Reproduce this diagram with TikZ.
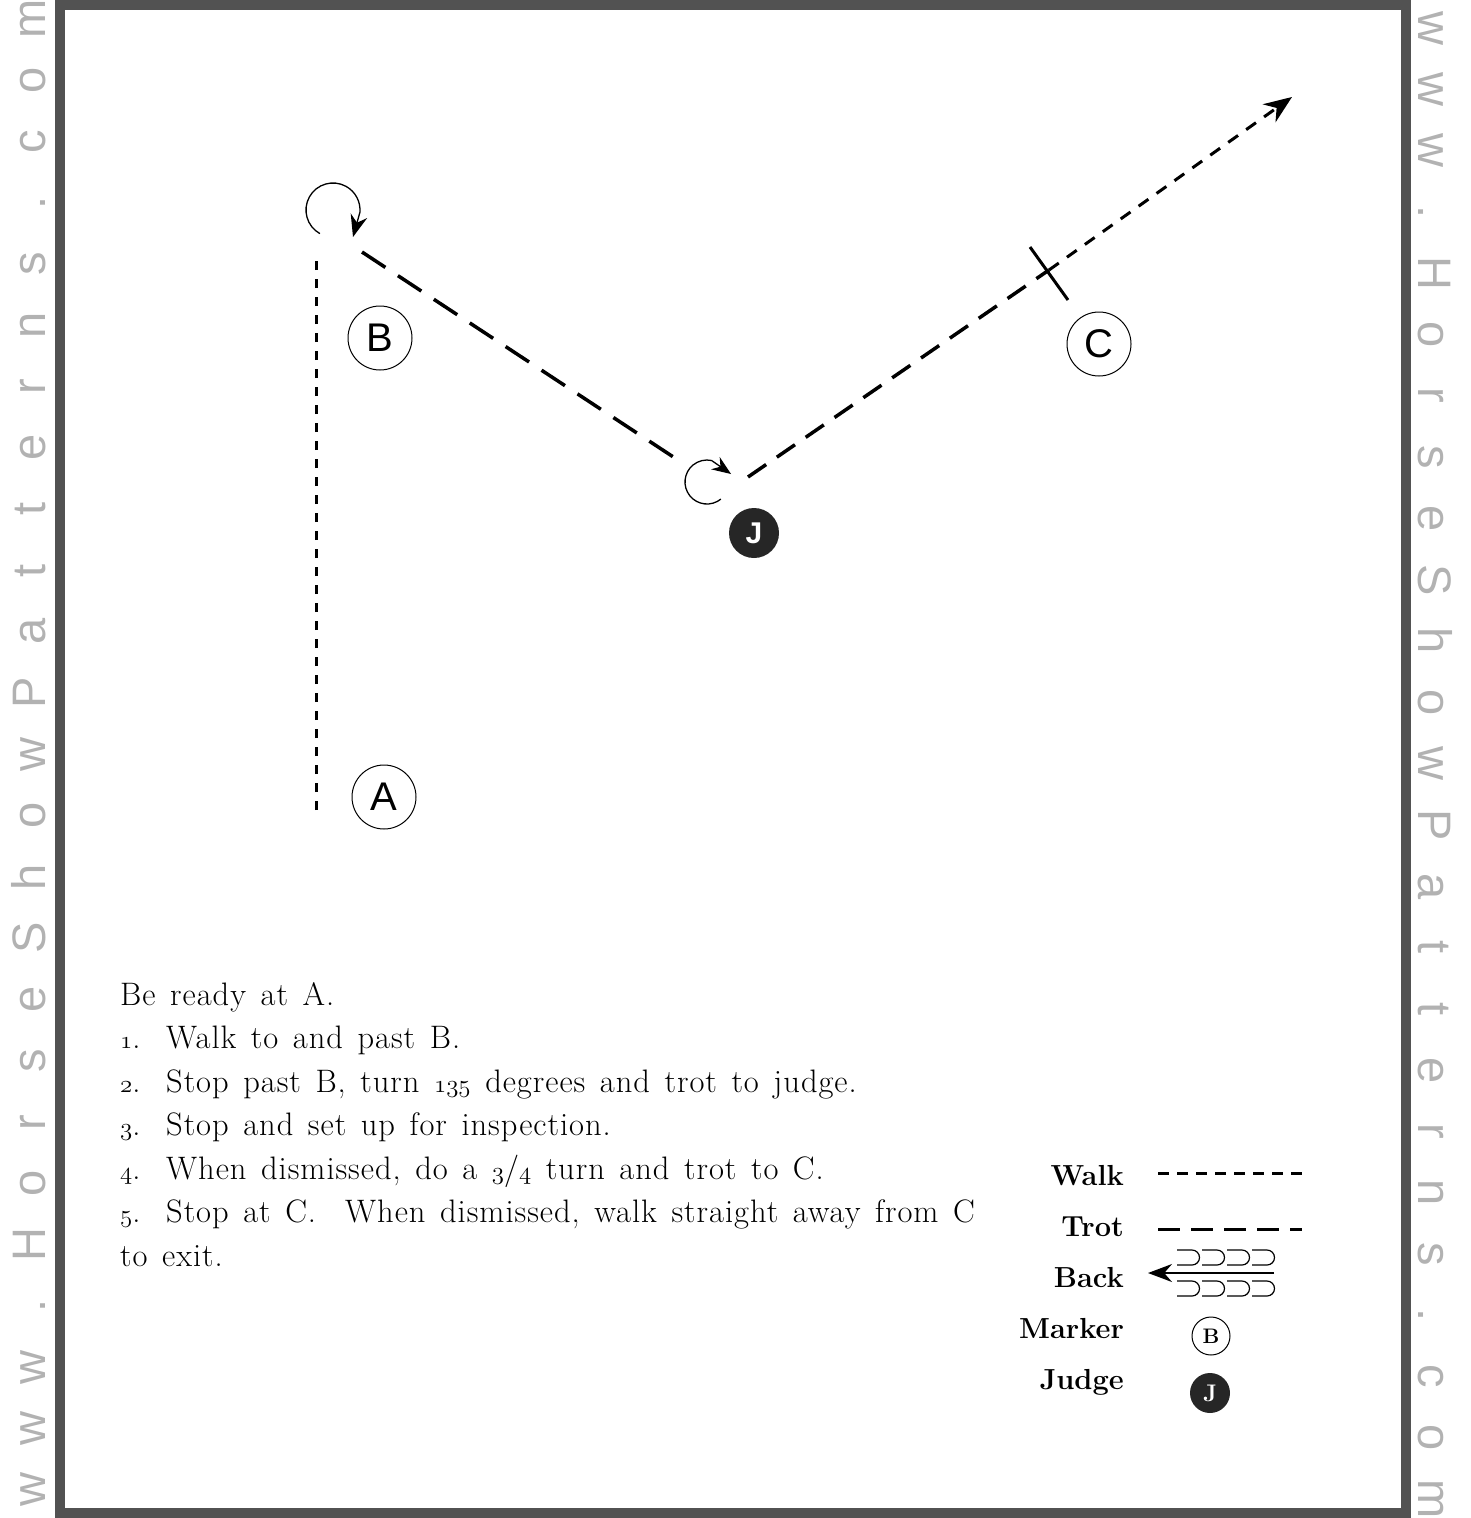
\documentclass[tikz,border=0pt]{standalone}
\usepackage{fontspec}
\usepackage{tikz}
\usetikzlibrary{calc,arrows.meta}
\newfontfamily\markfont{Liberation Sans}
\newfontfamily\wmfont{Liberation Sans}
\newfontfamily\bodyfont[LetterSpace=3,WordSpace=1.35]{Latin Modern Roman}
\newcommand{\osf}[1]{{\fontencoding{OML}\fontfamily{lmm}\fontseries{m}\fontshape{it}\selectfont #1}}
\newcommand{\stepno}[1]{\makebox[46pt][l]{\osf{#1}.}}

\begin{document}
\begin{tikzpicture}[x=1pt,y=-1pt,
  walk/.style={line width=3pt,dash pattern=on 9pt off 9pt},
  trot/.style={line width=3.5pt,dash pattern=on 28pt off 15pt},
  turn/.style={line width=1.3pt,-{Stealth[length=22pt,width=17pt]}},
  marker/.style={circle,draw,line width=1pt,minimum size=64pt,inner sep=0pt,
    font=\markfont\fontsize{40}{40}\selectfont},
  judge/.style={circle,fill=black!85,text=white,minimum size=50pt,inner sep=0pt,
    font=\markfont\bfseries\fontsize{30}{30}\selectfont},
  body/.style={anchor=base west,inner sep=0pt,font=\bodyfont\fontsize{32.5}{36}\selectfont},
  legend/.style={anchor=base east,inner sep=0pt,font=\bfseries\fontsize{29}{29}\selectfont},
  wm/.style={anchor=base,inner sep=0pt,text=black!30,font=\wmfont\fontsize{47}{47}\selectfont}]

  \useasboundingbox (0,0) rectangle (1471,1518);
  % frame and watermark
  \draw[black!68,line width=10pt] (60,5) rectangle (1406,1513);
  \foreach \ch [count=\i from 0] in {w,w,w,.,H,o,r,s,e,S,h,o,w,P,a,t,t,e,r,n,s,.,c,o,m} {
    \node[wm,rotate=90] (wl\i) at (45,{1490-61.3*\i}) {\ch};
    \node[wm,rotate=-90] (wr\i) at (1418,{28+61.3*\i}) {\ch};
  }

  % markers
  \node[marker] (B) at (380,338) {B};
  \node[marker] (A) at (384,797) {A};
  \node[marker] (C) at (1099,344) {C};
  \node[judge] (J) at (754,533) {J};

  % walk from A past B
  \coordinate (start) at (316,810);
  \coordinate (stop1) at (316,256);
  \draw[walk] (start) -- (stop1);
  % 135 degree turn
  \coordinate (turn1tip) at (353,237);
  \draw[turn] ($(333,210)+(241:27pt)$) arc[start angle=241,end angle=-5,radius=27pt] -- (turn1tip);
  % trot to judge
  \coordinate (t1s) at (362,252);
  \coordinate (t1e) at (684,464);
  \draw[trot] (t1s) -- (t1e);
  % 3/4 turn at judge
  \coordinate (turn2tip) at (731,474);
  \draw[turn,-{Stealth[length=19pt,width=15pt]}] ($(707,482)+(-51:22pt)$) arc[start angle=-51,end angle=-282,radius=22pt] -- (turn2tip);
  % trot to C, then walk out
  \coordinate (t2s) at (748,477);
  \coordinate (tick) at (1049,270);
  \coordinate (exit) at (1292,97);
  \draw[trot,dash pattern=on 22pt off 13pt] (t2s) -- (tick);
  \draw[walk,dash pattern=on 12pt off 10pt,-{Stealth[length=28pt,width=22pt]}] (tick) -- (exit);
  \coordinate (tickA) at (1030,247);
  \coordinate (tickB) at (1068,300);
  \draw[line width=3pt] (tickA) -- (tickB);

  % instructions
  \node[body] (s0) at (120,1005) {Be ready at A.};
  \node[body] (s1) at (120,1048.5) {\stepno{1}Walk to and past B.};
  \node[body] (s2) at (120,1092) {\stepno{2}Stop past B, turn \osf{135} degrees and trot to judge.};
  \node[body] (s3) at (120,1135.5) {\stepno{3}Stop and set up for inspection.};
  \node[body] (s4) at (120,1179) {\stepno{4}When dismissed, do a \osf{3}/\osf{4} turn and trot to C.};
  \node[body] (s5) at (120,1222.5) {\stepno{5}Stop at C.\ \ When dismissed, walk straight away from C};
  \node[body] (s6) at (120,1266) {to exit.};

  % legend
  \node[legend] (lwalk) at (1124,1185) {Walk};
  \node[legend] (ltrot) at (1124,1236) {Trot};
  \node[legend] (lback) at (1124,1287) {Back};
  \node[legend] (lmark) at (1124,1338) {Marker};
  \node[legend] (ljudge) at (1124,1389) {Judge};
  \draw[walk,dash pattern=on 11pt off 8pt] (1158,1173) -- (1302,1173);
  \draw[trot,line width=3pt,dash pattern=on 22pt off 11pt] (1158,1229) -- (1302,1229);
  \draw[line width=1.5pt,-{Stealth[length=24pt,width=18pt]}] (1274,1273) -- (1148,1273);
  \foreach \k in {0,...,3} {
    \draw[line width=1.2pt] ({1177+25*\k},1250) -- ++(15,0) arc[start angle=90,end angle=-90,radius=7.5pt] -- ++(-15,0);
    \draw[line width=1.2pt] ({1177+25*\k},1281) -- ++(15,0) arc[start angle=90,end angle=-90,radius=7.5pt] -- ++(-15,0);
  }
  \node[circle,draw,line width=1pt,minimum size=38pt,inner sep=0pt,font=\bfseries\fontsize{21}{21}\selectfont] (mkB) at (1211,1336) {B};
  \node[circle,fill=black!85,text=white,minimum size=40pt,inner sep=0pt,font=\bfseries\fontsize{24}{24}\selectfont] (mkJ) at (1210,1393) {J};
\end{tikzpicture}
\end{document}
